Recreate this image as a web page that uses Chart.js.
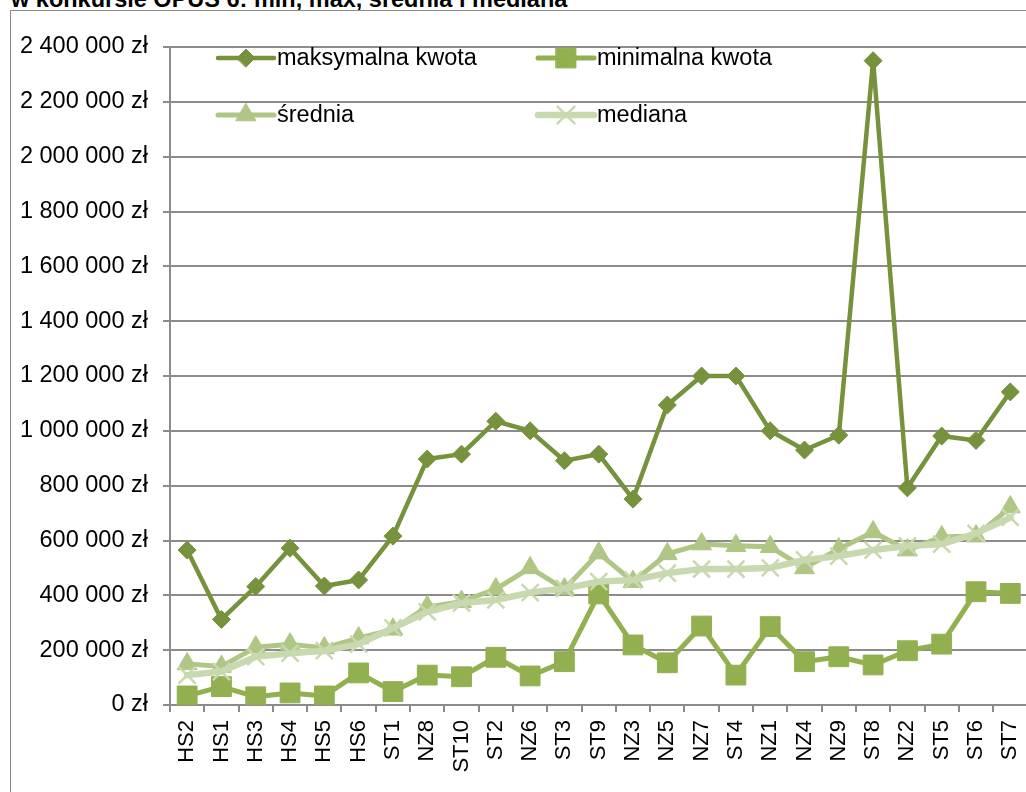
<!DOCTYPE html>
<html>
<head>
<meta charset="utf-8">
<script src="https://cdn.jsdelivr.net/npm/chart.js@4.4.1/dist/chart.umd.min.js"></script>
<style>
    html, body { margin: 0; padding: 0; background: #ffffff; overflow: hidden; width: 1026px; height: 792px; }
    #title { position: absolute; left: 11px; top: -13px; font: bold 23.5px "Liberation Sans", Arial, sans-serif; line-height: 24px; white-space: nowrap; color: #000; }
    #frame { position: absolute; left: 10px; top: 10px; width: 1100px; height: 900px; border: 1.5px solid #8a8a8a; }
    #wrap { position: absolute; left: 0; top: 0; width: 1045px; height: 792px; }
</style>
</head>
<body>
<div id="title">w konkursie OPUS 6: min, max, średnia i mediana</div>
<div id="frame"></div>
<div id="wrap"><canvas id="chart"></canvas></div>
<script>
// Dane
const categories = ['HS2', 'HS1', 'HS3', 'HS4', 'HS5', 'HS6', 'ST1', 'NZ8', 'ST10', 'ST2', 'NZ6', 'ST3', 'ST9',
    'NZ3', 'NZ5', 'NZ7', 'ST4', 'NZ1', 'NZ4', 'NZ9', 'ST8', 'NZ2', 'ST5', 'ST6', 'ST7'];
const maksymalna = [565000, 312000, 432000, 572000, 434000, 456000, 616000, 897000, 915000, 1035000, 1000000, 891000, 915000,
    751000, 1094000, 1200000, 1200000, 1000000, 930000, 984000, 2350000, 792000, 981000, 965000, 1142000];
const minimalna = [33000, 67000, 30000, 44000, 33000, 117000, 49000, 109000, 103000, 174000, 106000, 158000, 405000,
    219000, 154000, 288000, 109000, 286000, 158000, 176000, 146000, 198000, 222000, 413000, 407000];
const srednia = [150000, 140000, 211000, 222000, 208000, 244000, 276000, 358000, 377000, 423000, 500000, 423000, 554000,
    450000, 551000, 587000, 581000, 577000, 500000, 569000, 631000, 565000, 613000, 616000, 722000];
const mediana = [109000, 122000, 176000, 189000, 198000, 222000, 281000, 340000, 372000, 383000, 410000, 425000, 450000,
    456000, 481000, 496000, 496000, 500000, 529000, 543000, 565000, 580000, 587000, 626000, 684000];
const yTicks = { min: 0, max: 2400000, step: 200000 };

const colMax = '#76923c';
const colMin = '#92b04f';
const colSr = '#afc685';
const colMed = '#c8d9b0';
const gridCol = '#8c8c8c';
const font = '"Liberation Sans", Arial, sans-serif';

function formatZl(v) {
    return String(v).replace(/\B(?=(\d{3})+(?!\d))/g, ' ') + ' zł';
}

// legenda rysowana recznie (2 kolumny x 2 wiersze)
const legendItems = [
    { label: 'maksymalna kwota', ds: 0, x: 218, y: 58 },
    { label: 'minimalna kwota', ds: 1, x: 538, y: 58 },
    { label: 'średnia', ds: 2, x: 218, y: 115 },
    { label: 'mediana', ds: 3, x: 538, y: 115 }
];

const legendPlugin = {
    id: 'customLegend',
    afterDraw(chart) {
        const ctx = chart.ctx;
        ctx.save();
        legendItems.forEach(item => {
            const ds = chart.data.datasets[item.ds];
            ctx.strokeStyle = ds.borderColor;
            ctx.lineWidth = ds.borderWidth;
            ctx.lineCap = 'round';
            ctx.beginPath();
            ctx.moveTo(item.x, item.y);
            ctx.lineTo(item.x + 56, item.y);
            ctx.stroke();
            ctx.fillStyle = ds.pointBackgroundColor;
            ctx.strokeStyle = ds.pointBorderColor;
            ctx.lineWidth = ds.pointBorderWidth;
            Chart.helpers.drawPoint(ctx, {
                pointStyle: ds.pointStyle,
                radius: ds.pointRadius,
                rotation: 0,
                borderWidth: ds.pointBorderWidth
            }, item.x + 28, item.y);
            ctx.fillStyle = '#000';
            ctx.font = '23.5px ' + font;
            ctx.textBaseline = 'middle';
            ctx.textAlign = 'left';
            ctx.fillText(item.label, item.x + 59, item.y + 1);
        });
        ctx.restore();
    }
};

function lineSet(label, data, color, width, style, radius, order, pointBorder) {
    return {
        label: label,
        data: data,
        borderColor: color,
        backgroundColor: color,
        borderWidth: width,
        borderJoinStyle: 'round',
        borderCapStyle: 'round',
        pointStyle: style,
        pointRadius: radius,
        pointHoverRadius: radius,
        pointBackgroundColor: color,
        pointBorderColor: color,
        pointBorderWidth: pointBorder,
        tension: 0,
        order: order
    };
}

new Chart(document.getElementById('chart'), {
    type: 'line',
    data: {
        labels: categories,
        datasets: [
            lineSet('maksymalna kwota', maksymalna, colMax, 4.5, 'rectRot', 9, 3, 1),
            lineSet('minimalna kwota', minimalna, colMin, 5, 'rect', 14, 2, 1),
            lineSet('średnia', srednia, colSr, 5, 'triangle', 11.5, 1, 1),
            lineSet('mediana', mediana, colMed, 6.5, 'crossRot', 12, 0, 2.5)
        ]
    },
    options: {
        responsive: true,
        maintainAspectRatio: false,
        animation: false,
        layout: { padding: { left: 0, top: 47, right: 10, bottom: 0 } },
        plugins: {
            legend: { display: false },
            tooltip: { enabled: false }
        },
        scales: {
            x: {
                offset: true,
                afterFit: s => { s.height = 87; },
                grid: {
                    display: true,
                    offset: true,
                    drawOnChartArea: false,
                    drawTicks: true,
                    tickLength: 7,
                    color: gridCol,
                    lineWidth: 2
                },
                border: { display: true, color: gridCol, width: 2 },
                ticks: {
                    autoSkip: false,
                    maxRotation: 90,
                    minRotation: 90,
                    padding: 8,
                    color: '#000',
                    font: { family: font, size: 22 }
                }
            },
            y: {
                min: yTicks.min,
                max: yTicks.max,
                afterFit: s => { s.width = 170; },
                grid: {
                    color: gridCol,
                    lineWidth: 2,
                    tickLength: 7
                },
                border: { display: true, color: gridCol, width: 2 },
                ticks: {
                    stepSize: yTicks.step,
                    padding: 15,
                    color: '#000',
                    font: { family: font, size: 23.5 },
                    callback: v => formatZl(v)
                }
            }
        }
    },
    plugins: [legendPlugin]
});
</script>
</body>
</html>
